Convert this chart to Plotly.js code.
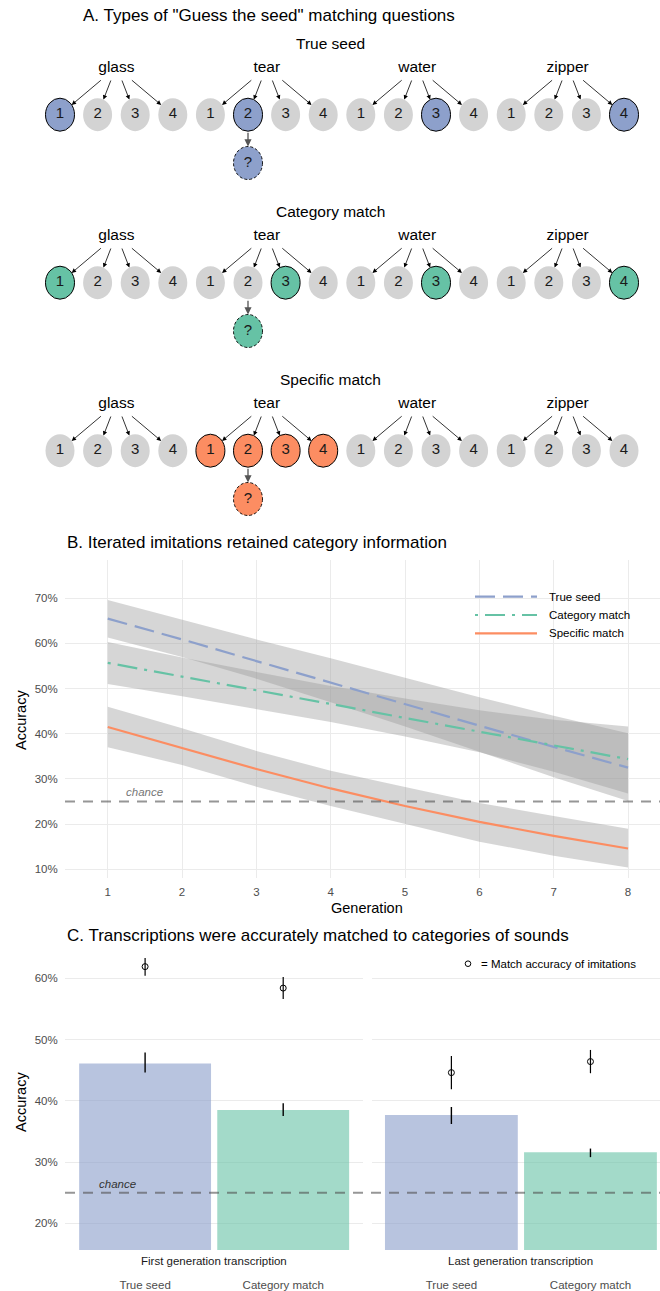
<!DOCTYPE html>
<html><head><meta charset="utf-8">
<script src="https://cdn.plot.ly/plotly-3.0.1.min.js"></script>
<style>html,body{margin:0;padding:0;background:#fff}#chart{width:660px;height:1291px}</style>
</head><body><div id="chart"></div>
<script>
// ---------- Panel A data ----------
const seedWords = ["glass", "tear", "water", "zipper"];
const optionLabels = ["1", "2", "3", "4"];
const questionTypes = ["True seed", "Category match", "Specific match"];
const typeColors = ["#8DA0CB", "#66C2A5", "#FC8D62"];
const trueSeedHighlight = [[0], [1], [2], [3]];
const categoryHighlight = [[0], [2], [2], [3]];
const specificHighlight = [[], [0, 1, 2, 3], [], []];
const imitatedWordIndex = 1;
const imitatedOptionIndex = 1;

// ---------- Panel B data ----------
const generations = [1, 2, 3, 4, 5, 6, 7, 8];
const seriesNames = ["True seed", "Category match", "Specific match"];
const trueSeedFit   = [0.655, 0.609, 0.561, 0.513, 0.465, 0.418, 0.371, 0.325];
const trueSeedUpper = [0.696, 0.652, 0.609, 0.567, 0.524, 0.481, 0.440, 0.401];
const trueSeedLower = [0.613, 0.570, 0.522, 0.470, 0.416, 0.360, 0.304, 0.251];
const categoryFit   = [0.557, 0.527, 0.496, 0.466, 0.435, 0.405, 0.374, 0.344];
const categoryUpper = [0.603, 0.569, 0.537, 0.506, 0.478, 0.452, 0.431, 0.416];
const categoryLower = [0.510, 0.483, 0.455, 0.426, 0.394, 0.359, 0.316, 0.268];
const specificFit   = [0.415, 0.368, 0.322, 0.279, 0.240, 0.205, 0.174, 0.146];
const specificUpper = [0.460, 0.412, 0.362, 0.318, 0.282, 0.247, 0.218, 0.190];
const specificLower = [0.370, 0.331, 0.283, 0.240, 0.200, 0.161, 0.130, 0.104];
const chanceLevel = 0.25;

// ---------- Panel C data ----------
const conditions = ["True seed", "Category match"];
const facetNames = ["First generation transcription", "Last generation transcription"];
const firstGenTranscription   = [0.461, 0.385];
const firstGenTranscriptionHi = [0.479, 0.396];
const firstGenTranscriptionLo = [0.446, 0.375];
const lastGenTranscription    = [0.377, 0.316];
const lastGenTranscriptionHi  = [0.390, 0.322];
const lastGenTranscriptionLo  = [0.362, 0.308];
const firstGenImitation   = [0.619, 0.584];
const firstGenImitationHi = [0.633, 0.602];
const firstGenImitationLo = [0.604, 0.566];
const lastGenImitation    = [0.446, 0.464];
const lastGenImitationHi  = [0.473, 0.483];
const lastGenImitationLo  = [0.419, 0.445];

// ---------- helpers / layout constants ----------
const W = 660, H = 1291;
const PX = x => x / W, PY = y => 1 - y / H;
const FONT = "Liberation Sans, Arial, Helvetica, sans-serif";
const data = [], shapes = [], annotations = [];
function note(text, x, y, opts) {
  return Object.assign({text: text, x: PX(x), y: PY(y), xref: 'paper', yref: 'paper', xanchor: 'center', yanchor: 'middle',
    showarrow: false}, opts || {});
}

// Panel A geometry (pixel-space axis x4/y4)
const slotStart = 60, slotStep = 37.6, rowStep = 168;
const subtitleY = 43.5, wordRowY = 67.7, arrowStartY = 79, circleY = 114.7, questionY = 163;
const rx = 14.5, ry = 16.5;
const arrowOffsets = [-14, -5, 5, 14];
const highlightSets = [trueSeedHighlight, categoryHighlight, specificHighlight];

const numX = [], numY = [], numT = [];
const wX = [], wY = [], wT = [];
questionTypes.forEach((qt, r) => {
  const dy = rowStep * r;
  annotations.push({text: qt, x: 330, y: subtitleY + dy, xref: 'x4', yref: 'y4', xanchor: 'center', yanchor: 'middle',
    showarrow: false, font: {size: 15.5, color: '#000'}});
  seedWords.forEach((w, g) => {
    const wx = slotStart + slotStep * (4 * g + 1.5);
    wX.push(wx); wY.push(wordRowY + dy); wT.push(w);
    optionLabels.forEach((lab, o) => {
      const cx = slotStart + slotStep * (4 * g + o), cy = circleY + dy;
      const hl = highlightSets[r][g].includes(o);
      shapes.push({type: 'circle', xref: 'x4', yref: 'y4', x0: cx - rx, x1: cx + rx, y0: cy - ry, y1: cy + ry,
        fillcolor: hl ? typeColors[r] : '#D3D3D3',
        line: {color: hl ? '#000' : 'rgba(0,0,0,0)', width: hl ? 1 : 0}, layer: 'below'});
      numX.push(cx); numY.push(cy); numT.push(lab);
      const sx = wx + arrowOffsets[o], sy = arrowStartY + dy;
      const dxv = sx - cx, dyv = sy - cy;
      const t = 1 / Math.sqrt((dxv / rx) ** 2 + (dyv / ry) ** 2);
      annotations.push({x: cx + dxv * t, y: cy + dyv * t, ax: sx, ay: sy, xref: 'x4', yref: 'y4', axref: 'x4', ayref: 'y4',
        text: '', showarrow: true, arrowhead: 2, arrowsize: 1.1, arrowwidth: 0.8, arrowcolor: '#000'});
    });
  });
  const qx = slotStart + slotStep * (4 * imitatedWordIndex + imitatedOptionIndex);
  const qy = questionY + dy;
  shapes.push({type: 'circle', xref: 'x4', yref: 'y4', x0: qx - rx, x1: qx + rx, y0: qy - ry, y1: qy + ry,
    fillcolor: typeColors[r], line: {color: '#000', width: 0.9, dash: '3px,2px'}, layer: 'below'});
  numX.push(qx); numY.push(qy); numT.push('?');
  annotations.push({x: qx, y: qy - ry, ax: qx, ay: circleY + dy + ry, xref: 'x4', yref: 'y4', axref: 'x4', ayref: 'y4',
    text: '', showarrow: true, arrowhead: 2, arrowsize: 1.1, arrowwidth: 1.3, arrowcolor: '#555'});
});
data.push({type: 'scatter', mode: 'text', x: wX, y: wY, text: wT, xaxis: 'x4', yaxis: 'y4',
  textfont: {size: 15.5, color: '#000', family: FONT}, hoverinfo: 'skip', showlegend: false, cliponaxis: false});
data.push({type: 'scatter', mode: 'text', x: numX, y: numY, text: numT, xaxis: 'x4', yaxis: 'y4',
  textfont: {size: 15, color: '#1a1a1a', family: FONT}, hoverinfo: 'skip', showlegend: false, cliponaxis: false});

// Panel B
const bandSets = [[trueSeedUpper, trueSeedLower], [categoryUpper, categoryLower], [specificUpper, specificLower]];
bandSets.forEach(([up, lo]) => {
  data.push({type: 'scatter', mode: 'lines', x: generations.concat(generations.slice().reverse()),
    y: up.concat(lo.slice().reverse()), fill: 'toself', fillcolor: 'rgba(153,153,153,0.4)',
    line: {width: 0, color: 'rgba(0,0,0,0)'}, hoverinfo: 'skip', showlegend: false, xaxis: 'x', yaxis: 'y'});
});
const fits = [trueSeedFit, categoryFit, specificFit];
const dashes = ['20px,8px', '3px,7px,20px,7px', 'solid'];
const widths = [2.2, 2.2, 2.2];
fits.forEach((f, i) => {
  data.push({type: 'scatter', mode: 'lines', x: generations, y: f, name: seriesNames[i],
    line: {color: typeColors[i], width: widths[i], dash: dashes[i]}, showlegend: false, xaxis: 'x', yaxis: 'y'});
});
shapes.push({type: 'line', xref: 'x domain', yref: 'y', x0: 0, x1: 1, y0: chanceLevel, y1: chanceLevel,
  line: {color: 'rgba(80,80,80,0.6)', width: 2, dash: '10px,8px'}, layer: 'above'});
annotations.push({text: '<i>chance</i>', x: 1.5, y: 0.271, xref: 'x', yref: 'y', xanchor: 'center', yanchor: 'middle',
  showarrow: false, font: {size: 11.5, color: '#777'}});
// manual legend for B
const legRows = [596.7, 615, 633.3];
seriesNames.forEach((n, i) => {
  shapes.push({type: 'line', xref: 'paper', yref: 'paper', x0: PX(475), x1: PX(537), y0: PY(legRows[i]), y1: PY(legRows[i]),
    line: {color: typeColors[i], width: widths[i], dash: dashes[i]}});
  annotations.push(note(n, 547, legRows[i], {xanchor: 'left', font: {size: 11.5, color: '#000'}}));
});

// Panel C
const barColors = ['rgba(141,160,203,0.62)', 'rgba(102,194,165,0.6)'];
const facetData = [
  [firstGenTranscription, firstGenTranscriptionHi, firstGenTranscriptionLo, firstGenImitation, firstGenImitationHi, firstGenImitationLo],
  [lastGenTranscription, lastGenTranscriptionHi, lastGenTranscriptionLo, lastGenImitation, lastGenImitationHi, lastGenImitationLo]
];
facetData.forEach(([v, hi, lo, iv, ihi, ilo], f) => {
  const xa = f === 0 ? 'x2' : 'x3', ya = f === 0 ? 'y2' : 'y3';
  data.push({type: 'bar', x: conditions, y: v, width: 0.955, xaxis: xa, yaxis: ya, showlegend: false,
    marker: {color: barColors, line: {width: 0}},
    error_y: {type: 'data', symmetric: false, array: hi.map((h, i) => h - v[i]), arrayminus: lo.map((l, i) => v[i] - l),
      color: '#000', thickness: 1.4, width: 0}});
  data.push({type: 'scatter', mode: 'markers', x: conditions, y: iv, xaxis: xa, yaxis: ya, showlegend: false,
    marker: {symbol: 'circle-open', size: 6, color: '#000', line: {width: 1, color: '#000'}},
    error_y: {type: 'data', symmetric: false, array: ihi.map((h, i) => h - iv[i]), arrayminus: ilo.map((l, i) => iv[i] - l),
      color: '#000', thickness: 1.2, width: 0}});
});
shapes.push({type: 'line', xref: 'paper', yref: 'y2', x0: PX(65), x1: 1, y0: chanceLevel, y1: chanceLevel,
  line: {color: 'rgba(80,80,80,0.6)', width: 2, dash: '10px,8px'}, layer: 'above'});
annotations.push({text: '<i>chance</i>', x: PX(117), y: 0.264, xref: 'paper', yref: 'y2', xanchor: 'center', yanchor: 'middle',
  showarrow: false, font: {size: 11.5, color: '#333'}});
annotations.push(note(facetNames[0], 214, 1261, {font: {size: 11.5, color: '#1a1a1a'}}));
annotations.push(note(facetNames[1], 520.8, 1261, {font: {size: 11.5, color: '#1a1a1a'}}));
shapes.push({type: 'circle', xref: 'paper', yref: 'paper', x0: PX(465.2), x1: PX(470.8), y0: PY(966.5), y1: PY(960.9),
  line: {color: '#000', width: 1}, fillcolor: 'rgba(0,0,0,0)'});
annotations.push(note('= Match accuracy of imitations', 479, 963.7, {xanchor: 'left', font: {size: 11.5, color: '#000'}}));

// titles & axis titles
const titleFont = {size: 17, color: '#000'};
annotations.push(note('A. Types of "Guess the seed" matching questions', 81, 15, {xanchor: 'left', font: titleFont}));
annotations.push(note('B. Iterated imitations retained category information', 65, 542, {xanchor: 'left', font: titleFont}));
annotations.push(note('C. Transcriptions were accurately matched to categories of sounds', 65, 935.5, {xanchor: 'left', font: titleFont}));
annotations.push(note('Generation', 367.5, 908, {font: {size: 14.5, color: '#000'}}));
annotations.push(note('Accuracy', 21, 720, {textangle: -90, font: {size: 14.5, color: '#000'}}));
annotations.push(note('Accuracy', 21, 1102, {textangle: -90, font: {size: 14.5, color: '#000'}}));

const tickFont = {size: 11.5, color: '#4D4D4D'};
const gridColor = '#EBEBEB';
const layout = {
  width: W, height: H, margin: {l: 0, r: 0, t: 0, b: 0},
  paper_bgcolor: '#fff', plot_bgcolor: 'rgba(0,0,0,0)', showlegend: false,
  font: {family: FONT, color: '#000'},
  xaxis4: {domain: [0, 1], range: [0, W], visible: false, fixedrange: true, anchor: 'y4'},
  yaxis4: {domain: [PY(530), 1], range: [530, 0], visible: false, fixedrange: true, anchor: 'x4'},
  xaxis: {domain: [PX(65), 1], range: [0.425, 8.43], tickvals: generations, ticktext: generations.map(String),
    showgrid: true, gridcolor: gridColor, gridwidth: 1, zeroline: false, showline: false,
    ticks: 'outside', ticklen: 3, tickcolor: 'rgba(0,0,0,0)', tickfont: tickFont, anchor: 'y'},
  yaxis: {domain: [PY(878), PY(560)], range: [0.0807, 0.7848], tickvals: [0.1, 0.2, 0.3, 0.4, 0.5, 0.6, 0.7], tickformat: '.0%',
    showgrid: true, gridcolor: gridColor, gridwidth: 1, zeroline: false, showline: false,
    ticks: 'outside', ticklen: 4, tickcolor: 'rgba(0,0,0,0)', tickfont: tickFont, anchor: 'x'},
  xaxis2: {domain: [PX(65), PX(363.3)], type: 'category', categoryarray: conditions, range: [-0.58, 1.58],
    showgrid: false, zeroline: false, showline: false, ticks: '', ticklabelstandoff: 26, tickfont: tickFont, anchor: 'y2'},
  yaxis2: {domain: [PY(1250), PY(946)], range: [0.1564, 0.6527], tickvals: [0.2, 0.3, 0.4, 0.5, 0.6], tickformat: '.0%',
    showgrid: true, gridcolor: gridColor, gridwidth: 1, zeroline: false, showline: false,
    ticks: 'outside', ticklen: 4, tickcolor: 'rgba(0,0,0,0)', tickfont: tickFont, anchor: 'x2'},
  xaxis3: {domain: [PX(371.7), 1], type: 'category', categoryarray: conditions, range: [-0.573, 1.5],
    showgrid: false, zeroline: false, showline: false, ticks: '', ticklabelstandoff: 26, tickfont: tickFont, anchor: 'y3'},
  yaxis3: {domain: [PY(1250), PY(946)], range: [0.1564, 0.6527], tickvals: [0.2, 0.3, 0.4, 0.5, 0.6],
    showticklabels: false, showgrid: true, gridcolor: gridColor, gridwidth: 1, zeroline: false, showline: false, anchor: 'x3'},
  shapes: shapes, annotations: annotations
};
Plotly.newPlot('chart', data, layout, {displayModeBar: false, staticPlot: true});
</script></body></html>
